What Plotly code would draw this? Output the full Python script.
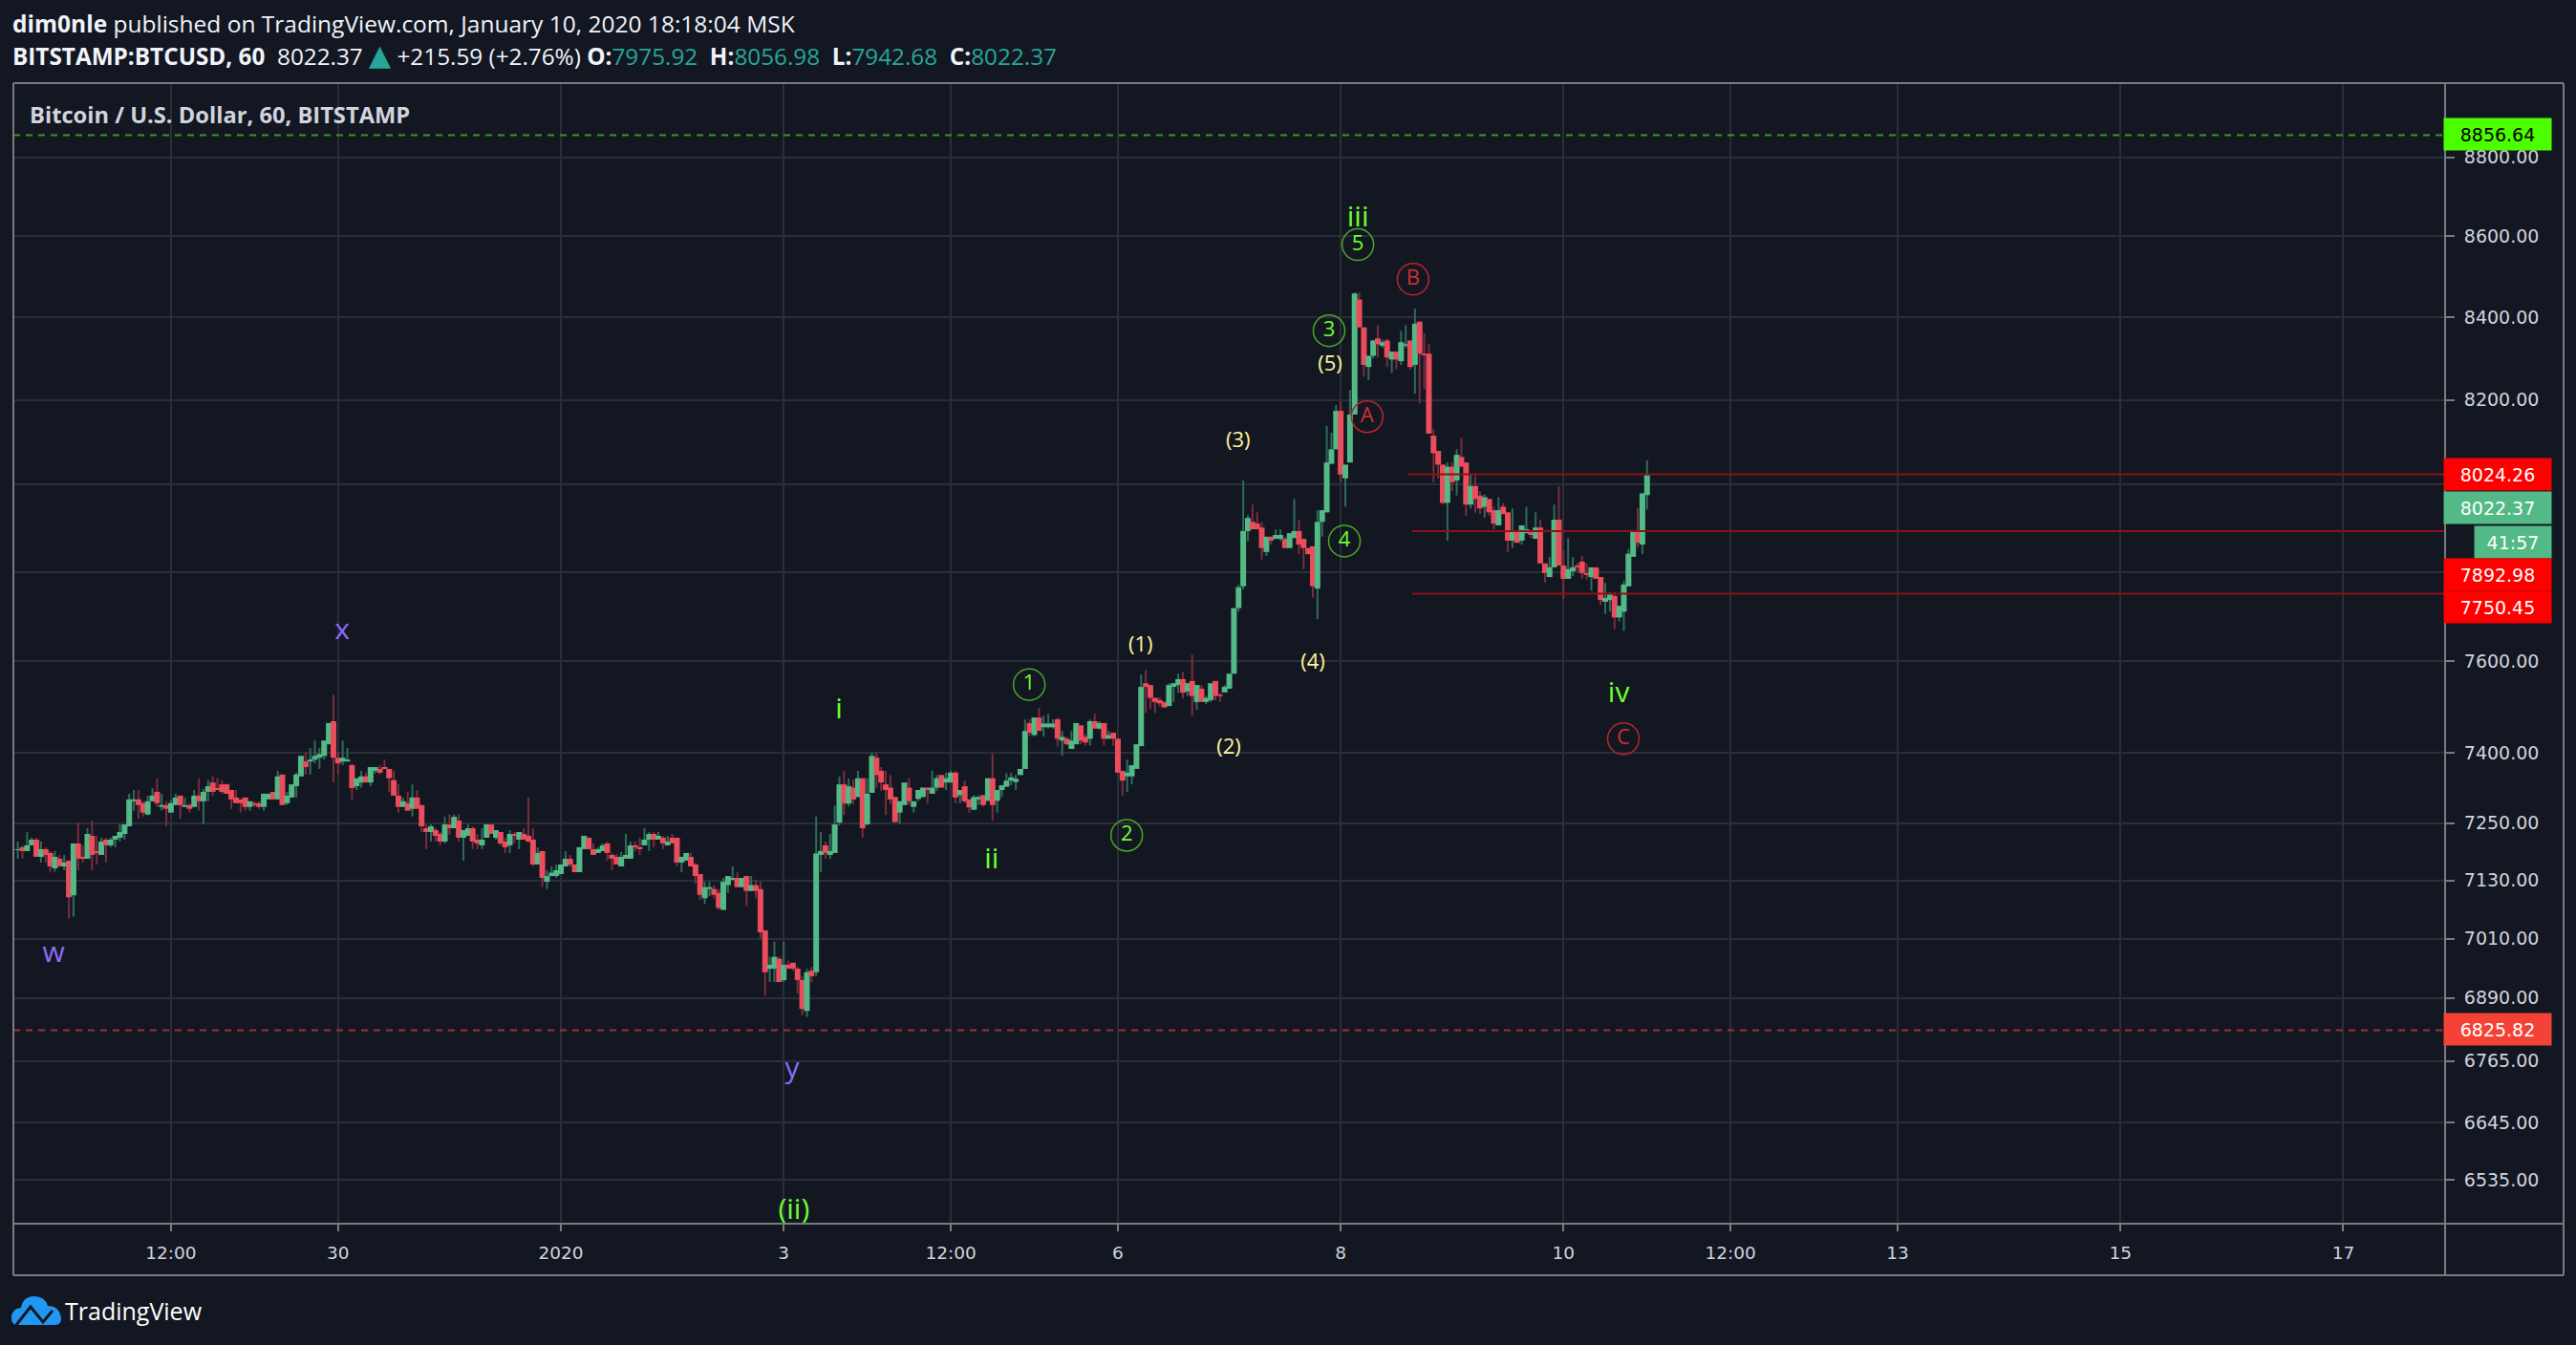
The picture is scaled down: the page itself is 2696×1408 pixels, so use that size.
import math
import pandas as pd
import plotly.graph_objects as go

# OHLC rows, hourly
bars_dec27_30 = [
(7193,7211,7175,7195),(7199,7203,7175,7191),(7191,7231,7191,7203),(7203,7219,7203,7215),(7215,7219,7179,7179),
(7179,7211,7167,7195),(7195,7199,7167,7183),(7187,7191,7148,7159),(7155,7191,7148,7179),(7175,7183,7159,7159),
(7159,7183,7151,7167),(7171,7171,7051,7095),(7099,7207,7055,7207),(7207,7251,7151,7175),(7179,7203,7167,7175),
(7175,7239,7175,7227),(7223,7255,7151,7183),(7191,7223,7163,7187),(7183,7219,7183,7211),(7215,7219,7167,7203),
(7203,7219,7199,7215),(7215,7223,7199,7223),(7219,7247,7211,7231),(7227,7247,7215,7247),(7243,7312,7243,7300),
(7296,7320,7276,7300),(7300,7320,7259,7288),(7292,7296,7264,7272),(7268,7308,7266,7296),(7296,7324,7296,7308),
(7316,7345,7284,7292),(7284,7312,7276,7288),(7288,7296,7243,7280),(7272,7299,7272,7292),(7288,7312,7288,7304),
(7308,7308,7259,7288),(7284,7304,7284,7288),(7288,7292,7272,7280),(7284,7320,7284,7308),(7308,7345,7276,7296),
(7296,7322,7247,7316),(7316,7341,7296,7328),(7336,7349,7308,7316),(7324,7345,7320,7320),(7332,7341,7312,7316),
(7332,7334,7312,7312),(7320,7320,7280,7300),(7304,7320,7292,7292),(7300,7300,7272,7292),(7304,7304,7276,7284),
(7284,7296,7276,7296),(7292,7296,7284,7288),(7292,7296,7280,7284),(7284,7312,7276,7312),(7300,7312,7300,7312),
(7316,7316,7300,7300),(7300,7361,7300,7349),(7353,7353,7288,7288),(7292,7316,7288,7308),(7304,7332,7304,7332),
(7328,7357,7304,7353),(7349,7393,7349,7393),(7381,7401,7353,7369),(7381,7410,7353,7385),(7385,7426,7377,7393),
(7389,7410,7365,7397),(7393,7426,7385,7426),(7418,7464,7418,7464),(7468,7526,7336,7389),(7389,7401,7353,7377),
(7381,7426,7373,7389),(7381,7410,7381,7385),(7373,7377,7300,7324),(7328,7345,7320,7345),(7336,7361,7325,7349),
(7349,7357,7336,7336),(7336,7369,7328,7369),(7361,7369,7355,7369),(7365,7373,7353,7357),(7369,7385,7365,7365),
(7365,7365,7316,7345),(7341,7361,7308,7308),(7308,7332,7272,7284),(7284,7304,7284,7296),(7292,7316,7276,7276),
(7280,7332,7264,7304),(7304,7320,7280,7280),(7288,7288,7231,7243),(7239,7247,7195,7231),(7231,7247,7211,7243),
]
bars_dec31_jan03 = [
(7235,7239,7211,7223),(7227,7231,7203,7211),(7211,7263,7207,7247),(7247,7268,7225,7239),(7239,7268,7239,7263),
(7255,7268,7211,7219),(7219,7235,7171,7235),(7223,7247,7223,7239),(7239,7243,7195,7211),(7215,7227,7195,7207),
(7203,7239,7195,7215),(7219,7247,7219,7247),(7247,7247,7227,7227),(7219,7235,7215,7235),(7231,7231,7203,7207),
(7211,7219,7187,7199),(7203,7235,7187,7227),(7227,7231,7207,7223),(7215,7231,7195,7231),(7227,7239,7215,7215),
(7223,7304,7209,7211),(7215,7239,7159,7163),(7163,7199,7163,7187),(7191,7191,7116,7135),(7127,7151,7112,7139),
(7139,7159,7139,7146),(7139,7163,7135,7151),(7143,7163,7143,7163),(7159,7191,7159,7175),(7175,7183,7159,7163),
(7163,7163,7147,7147),(7147,7199,7147,7199),(7195,7223,7195,7223),(7219,7219,7195,7195),(7195,7207,7183,7183),
(7187,7199,7187,7195),(7191,7207,7191,7203),(7207,7211,7171,7187),(7183,7187,7151,7175),(7179,7185,7163,7163),
(7159,7189,7159,7179),(7175,7227,7175,7183),(7175,7211,7175,7203),(7203,7211,7191,7199),(7199,7219,7183,7195),
(7203,7239,7203,7215),(7215,7231,7191,7227),(7227,7231,7199,7215),(7215,7231,7215,7223),(7219,7223,7195,7207),
(7203,7223,7203,7211),(7219,7227,7207,7207),(7219,7219,7159,7167),(7167,7179,7147,7179),(7171,7187,7171,7187),
(7179,7187,7159,7159),(7163,7167,7123,7139),(7143,7143,7089,7100),(7093,7127,7081,7116),(7112,7127,7097,7116),
(7112,7120,7093,7100),(7104,7112,7069,7073),(7069,7135,7069,7127),(7120,7139,7104,7139),(7131,7159,7131,7135),
(7135,7147,7116,7116),(7116,7135,7116,7135),(7139,7139,7077,7108),(7108,7139,7108,7120),(7120,7131,7093,7108),
(7112,7127,7011,7023),(7027,7027,6895,6942),(6949,6973,6922,6957),(6949,7004,6922,6973),(6969,6973,6922,6922),
(6926,7004,6922,6957),(6957,6965,6949,6949),(6961,6961,6945,6949),(6949,6953,6899,6926),(6926,6934,6856,6868),
(6864,6949,6852,6942),(6945,6953,6922,6934),(6942,7264,6934,7186),(7183,7231,7147,7191),(7203,7211,7175,7187),
(7183,7227,7175,7191),(7187,7287,7187,7247),(7251,7349,7245,7332),
]
bars_jan03_07 = [
(7332,7361,7267,7291),(7291,7345,7285,7328),(7325,7342,7290,7300),(7305,7361,7305,7345),(7345,7345,7219,7239),
(7247,7345,7245,7312),(7314,7400,7314,7393),(7389,7401,7325,7352),(7361,7369,7318,7336),(7332,7361,7267,7320),
(7325,7352,7290,7300),(7305,7305,7252,7252),(7272,7296,7247,7296),(7288,7332,7288,7336),(7325,7345,7288,7296),
(7284,7296,7272,7296),(7301,7320,7296,7320),(7305,7325,7305,7325),(7325,7325,7291,7320),(7312,7361,7312,7325),
(7325,7352,7318,7345),(7352,7352,7325,7325),(7336,7357,7320,7345),(7336,7361,7336,7357),(7357,7361,7292,7304),
(7309,7320,7292,7320),(7328,7340,7292,7296),(7300,7300,7272,7283),(7278,7309,7278,7305),(7300,7309,7288,7305),
(7309,7309,7285,7288),(7297,7345,7297,7345),(7345,7397,7255,7288),(7297,7320,7272,7320),(7320,7330,7305,7330),
(7327,7356,7327,7340),(7340,7356,7330,7347),(7337,7352,7320,7344),(7352,7365,7352,7365),(7365,7472,7365,7447),
(7464,7472,7435,7443),(7438,7476,7435,7476),(7476,7497,7447,7447),(7455,7480,7435,7463),(7455,7484,7452,7463),
(7455,7472,7452,7463),(7472,7476,7413,7430),(7426,7447,7393,7434),(7430,7434,7415,7418),(7408,7447,7408,7426),
(7418,7464,7418,7464),(7459,7459,7418,7426),(7434,7440,7415,7422),(7430,7472,7415,7468),(7468,7485,7452,7452),
(7452,7468,7450,7464),(7464,7464,7415,7430),(7430,7447,7430,7438),(7443,7443,7415,7430),(7430,7430,7357,7357),
(7361,7361,7308,7340),(7349,7385,7316,7357),(7349,7373,7332,7373),(7365,7418,7365,7418),(7414,7570,7414,7543),
(7551,7580,7486,7543),(7547,7547,7494,7519),(7519,7519,7486,7510),(7514,7520,7500,7507),(7510,7510,7498,7498),
(7501,7551,7501,7547),(7543,7551,7510,7551),(7547,7572,7530,7560),(7560,7576,7518,7530),(7533,7551,7523,7551),
(7556,7614,7480,7523),(7510,7547,7493,7547),(7539,7547,7510,7510),(7510,7523,7505,7519),(7514,7551,7510,7551),
(7556,7556,7514,7523),(7526,7530,7510,7523),(7531,7547,7531,7543),(7539,7572,7539,7572),(7572,7718,7572,7718),
(7718,7771,7710,7765),(7767,8010,7760,7893),
]
bars_jan07_10 = [
(7893,7930,7870,7923),(7914,7954,7897,7897),(7910,7936,7897,7897),(7901,7914,7828,7854),(7845,7880,7836,7880),
(7880,7880,7862,7871),(7875,7897,7875,7884),(7875,7897,7870,7884),(7875,7880,7854,7854),(7854,7888,7854,7888),
(7877,7967,7877,7893),(7893,7919,7840,7862),(7875,7875,7806,7854),(7854,7854,7840,7840),(7858,7858,7741,7767),
(7762,7941,7693,7914),(7914,7941,7880,7941),(7936,8138,7936,8052),(8049,8122,8049,8083),(8083,8188,8083,8174),
(8174,8197,8006,8024),(8015,8047,7949,8047),(8052,8224,8052,8165),(8165,8461,8165,8458),(8443,8461,8375,8375),
(8375,8375,8256,8284),(8279,8306,8247,8306),(8306,8345,8300,8343),(8348,8380,8302,8334),(8330,8345,8325,8339),
(8343,8348,8279,8302),(8297,8316,8265,8316),(8316,8316,8274,8297),(8293,8366,8284,8339),(8330,8380,8325,8334),
(8343,8343,8273,8279),(8284,8421,8215,8384),(8389,8389,8192,8311),(8311,8361,8226,8307),(8311,8334,8120,8120),
(8115,8130,8006,8074),(8079,8079,8015,8047),(8047,8047,7954,7958),(7958,8052,7871,8042),(8042,8052,7985,8006),
(8010,8083,7975,8070),(8065,8110,8042,8042),(8052,8052,7928,7954),(7954,8023,7945,7997),(7997,8020,7935,7967),
(7975,7985,7932,7945),(7949,7978,7924,7971),(7967,7967,7928,7936),(7941,7949,7897,7910),(7906,7971,7906,7941),
(7949,7958,7932,7932),(7936,7936,7845,7871),(7871,7945,7854,7893),(7893,7893,7866,7866),(7871,7906,7862,7906),
(7888,7949,7888,7897),(7893,7893,7877,7884),(7875,7936,7875,7901),(7901,7919,7819,7819),(7819,7819,7775,7797),
(7788,7833,7788,7810),(7810,7954,7810,7919),(7919,7997,7814,7814),(7814,7848,7738,7784),(7784,7877,7784,7806),
(7801,7833,7790,7810),(7814,7820,7800,7810),(7823,7836,7784,7797),(7797,7819,7782,7793),(7788,7810,7757,7810),
(7810,7810,7784,7784),(7788,7788,7725,7736),(7732,7775,7705,7741),(7736,7754,7710,7749),(7745,7754,7671,7697),
(7697,7723,7688,7723),(7710,7780,7667,7771),(7767,7852,7767,7841),(7834,7893,7834,7893),(7893,7946,7855,7866),
(7862,7980,7840,7980),(7975.92,8056.98,7942.68,8022.37),
]

y_ticks = [6535, 6645, 6765, 6890, 7010, 7130, 7250, 7400, 7600, 7800, 8000, 8200, 8400, 8600, 8800]
y_tick_labels = ["6535.00", "6645.00", "6765.00", "6890.00", "7010.00", "7130.00", "7250.00", "7400.00",
                 "7600.00", "", "", "8200.00", "8400.00", "8600.00", "8800.00"]
x_ticks = ["2019-12-28 12:00", "2019-12-30", "2020-01-01", "2020-01-03", "2020-01-04 12:00", "2020-01-06",
           "2020-01-08", "2020-01-10", "2020-01-11 12:00", "2020-01-13", "2020-01-15", "2020-01-17"]
x_tick_labels = ["12:00", "30", "2020", "3", "12:00", "6", "8", "10", "12:00", "13", "15", "17"]

# wave counts: hours after 2020-01-01 00:00, price, text
plain_hours = [-109.3, -47.1, 49.8]
plain_prices = [6977, 7665, 6747]
plain_text = ["w", "x", "y"]
roman_hours = [50.2, 59.9, 92.8, 171.7, 227.9]
roman_prices = [6474, 7490, 7169, 8643, 7526]
roman_text = ["(ii)", "i", "ii", "iii", "iv"]
minor_hours = [124.9, 143.9, 145.9, 162.0, 165.7]
minor_prices = [7633, 7409, 8101, 7595, 8283]
minor_text = ["(1)", "(2)", "(3)", "(4)", "(5)"]
circle_hours = [100.9, 121.9, 165.5, 168.8, 171.7]
circle_prices = [7548, 7224, 8367, 7870, 8579]
circle_text = ["1", "2", "3", "4", "5"]
abc_hours = [173.7, 183.6, 228.9]
abc_prices = [8160, 8493, 7430]
abc_text = ["A", "B", "C"]

level_prices = [8024.26, 7892.98, 7750.45]
level_start_hours = [182.6, 183.4, 183.4]
top_line = 8856.64
bottom_line = 6825.82

# price tags on the scale: text, centre row in the page, box colour, text colour
tag_text = ["8856.64", "8024.26", "8022.37", "41:57", "7892.98", "7750.45", "6825.82"]
tag_rows = [141, 497, 531, 567, 601, 635, 1077]
tag_fill = ["#4cff00", "#ff0000", "#53b987", "#53b987", "#ff0000", "#ff0000", "#f44336"]
tag_ink = ["#000000", "#ffffff", "#ffffff", "#ffffff", "#ffffff", "#ffffff", "#ffffff"]

BG = "#131722"
GRID = "#2a2e39"
FRAME = "#787b7f"
AXIS_FONT = "DejaVu Sans"
TEXT_FONT = "Open Sans"
W, H = 2696, 1408
L, R, T, B = 14, 2559, 87, 1281

bars = bars_dec27_30 + bars_dec31_jan03 + bars_jan03_07 + bars_jan07_10
opens = [b[0] for b in bars]
highs = [b[1] for b in bars]
lows = [b[2] for b in bars]
closes = [b[3] for b in bars]
times = pd.date_range("2019-12-27 03:00", periods=len(bars), freq="h")
origin = pd.Timestamp("2020-01-01")


def at(hours):
    return origin + pd.to_timedelta(hours, unit="h")


x0, x1 = at((L - 587) / 4.858), at((R - 587) / 4.858)
px = lambda x: (x - L) / (R - L)
py = lambda y: (B - y) / (B - T)


def wicks(rising):
    xs, ys = [], []
    for t, o, h, l, c in zip(times, opens, highs, lows, closes):
        if (c >= o) == rising:
            xs += [t, t, None]
            ys += [l, h, None]
    return xs, ys


fig = go.Figure()
for price, color, dash in ((top_line, "#3c9a10", "7px,6px"), (bottom_line, "#a03035", "7px,6px")):
    fig.add_trace(go.Scatter(x=[x0, x1], y=[price, price], mode="lines",
                             line=dict(color=color, width=2, dash=dash), hoverinfo="skip"))
for rising, color in ((True, "#2f6b5b"), (False, "#7a2c3e")):
    xs, ys = wicks(rising)
    fig.add_trace(go.Scatter(x=xs, y=ys, mode="lines", line=dict(color=color, width=2), hoverinfo="skip"))

# candle bodies, in time order so a later candle lies over an earlier one
run_x, run_y, run_up = [], [], None
for t, o, c in zip(times, opens, closes):
    up = c >= o
    if run_up is not None and up != run_up:
        fig.add_trace(go.Scatter(x=run_x, y=run_y, mode="lines", hoverinfo="skip",
                                 line=dict(color="#53b987" if run_up else "#eb4d5c", width=6)))
        run_x, run_y = [], []
    run_x += [t, t, None]
    run_y += [o, c, None]
    run_up = up
fig.add_trace(go.Scatter(x=run_x, y=run_y, mode="lines", hoverinfo="skip",
                         line=dict(color="#53b987" if run_up else "#eb4d5c", width=6)))

for price, start in zip(level_prices, level_start_hours):
    fig.add_trace(go.Scatter(x=[at(start), x1], y=[price, price], mode="lines",
                             line=dict(color="#8b1219", width=2), hoverinfo="skip"))


def labels(hours, prices, text, color, size, ring=None):
    fig.add_trace(go.Scatter(
        x=[at(h) for h in hours], y=prices, text=text,
        mode="markers+text" if ring else "text", textposition="middle center",
        textfont=dict(family=TEXT_FONT, size=size, color=color),
        marker=dict(size=33, color="rgba(0,0,0,0)", line=dict(color=ring, width=1.5)) if ring else None,
        hoverinfo="skip"))


labels(plain_hours, plain_prices, plain_text, "#8a6cf5", 30)
labels(roman_hours, roman_prices, roman_text, "#6eff2e", 30)
labels(minor_hours, minor_prices, minor_text, "#fff59d", 22)
labels(circle_hours, circle_prices, circle_text, "#6eff2e", 22, "#4ba62a")
labels(abc_hours, abc_prices, abc_text, "#d32f2f", 22, "#b3262c")

notes = []
for text, row, fill, ink in zip(tag_text, tag_rows, tag_fill, tag_ink):
    short = len(text) < 6
    notes.append(dict(xref="paper", yref="paper", x=px(2630 if short else 2614), y=py(row),
                      xanchor="center", yanchor="middle", text=text, showarrow=False,
                      width=80 if short else 112, height=33, bgcolor=fill, borderpad=0, align="center",
                      font=dict(family=AXIS_FONT, size=19, color=ink)))

TEAL = "#26a69a"
line2 = ("<b>BITSTAMP:BTCUSD, 60</b>&nbsp; 8022.37 "
         f"<span style='color:{TEAL};font-size:30px;font-family:DejaVu Sans'>▲</span> +215.59 (+2.76%) "
         f"<b>O:</b><span style='color:{TEAL}'>7975.92</span>&nbsp; "
         f"<b>H:</b><span style='color:{TEAL}'>8056.98</span>&nbsp; "
         f"<b>L:</b><span style='color:{TEAL}'>7942.68</span>&nbsp; "
         f"<b>C:</b><span style='color:{TEAL}'>8022.37</span>")
for text, x, row, color, size in (
        ("<b>dim0nle</b> published on TradingView.com, January 10, 2020 18:18:04 MSK", 12, 25, "#f0f3fa", 24.5),
        (line2, 12, 58, "#f0f3fa", 24.3),
        ("<b>Bitcoin / U.S. Dollar, 60, BITSTAMP</b>", 30, 120, "#d1d4dc", 23.7),
        ("TradingView", 67, 1372, "#ffffff", 25)):
    notes.append(dict(xref="paper", yref="paper", x=px(x), y=py(row), xanchor="left", yanchor="middle",
                      text=text, showarrow=False, align="left", borderpad=0,
                      font=dict(family=TEXT_FONT, size=size, color=color)))


def frame_line(xa, ya, xb, yb):
    return dict(type="line", xref="paper", yref="paper", x0=px(xa), y0=py(ya), x1=px(xb), y1=py(yb),
                line=dict(color=FRAME, width=2), layer="above")


def path(*segments):
    out = []
    for seg in segments:
        cmd, *vals = seg
        pairs = [f"{px(vals[i]):.5f},{py(vals[i + 1]):.5f}" for i in range(0, len(vals), 2)]
        out.append(cmd + " " + " ".join(pairs))
    return " ".join(out)


cloud = path(("M", 12, 1380), ("Q", 12, 1370, 22, 1369), ("Q", 24, 1357, 36, 1357), ("Q", 47, 1357, 50, 1367),
             ("Q", 62, 1367, 64, 1380), ("Q", 64, 1387, 58, 1387), ("L", 18, 1387), ("Q", 12, 1387, 12, 1380)) + " Z"
trend = path(("M", 17, 1387), ("L", 32, 1368), ("L", 45, 1384), ("L", 55, 1372))
shapes = [frame_line(14, 87, 2683, 87), frame_line(14, 87, 14, 1335), frame_line(2683, 87, 2683, 1335),
          frame_line(14, 1335, 2683, 1335), frame_line(14, 1281, 2683, 1281), frame_line(2559, 87, 2559, 1335),
          dict(type="path", xref="paper", yref="paper", path=cloud, fillcolor="#2196f3", line=dict(width=0)),
          dict(type="path", xref="paper", yref="paper", path=trend, line=dict(color=BG, width=3))]

fig.update_layout(
    width=W, height=H, autosize=False, showlegend=False,
    paper_bgcolor=BG, plot_bgcolor=BG,
    margin=dict(l=L, r=W - R, t=T, b=H - B, pad=0),
    xaxis=dict(type="date", range=[x0, x1], tickmode="array", tickvals=x_ticks, ticktext=x_tick_labels,
               showgrid=True, gridcolor=GRID, gridwidth=2, zeroline=False,
               ticks="outside", ticklen=7, tickwidth=2, tickcolor=FRAME, ticklabelstandoff=7,
               tickfont=dict(family=AXIS_FONT, size=18.5, color="#d1d4dc"), fixedrange=True),
    yaxis=dict(type="log", side="right", range=[math.log10(6452), math.log10(8992)], tickmode="array",
               tickvals=y_ticks, ticktext=y_tick_labels, showgrid=True, gridcolor=GRID, gridwidth=2, zeroline=False,
               ticks="outside", ticklen=9, tickwidth=2, tickcolor=FRAME, ticklabelstandoff=6,
               tickfont=dict(family=AXIS_FONT, size=19, color="#d1d4dc"), fixedrange=True),
    annotations=notes, shapes=shapes)

fig.write_html("out.html", config=dict(displayModeBar=False),
               post_script="document.body.style.margin='0';document.documentElement.style.overflow='hidden';")
